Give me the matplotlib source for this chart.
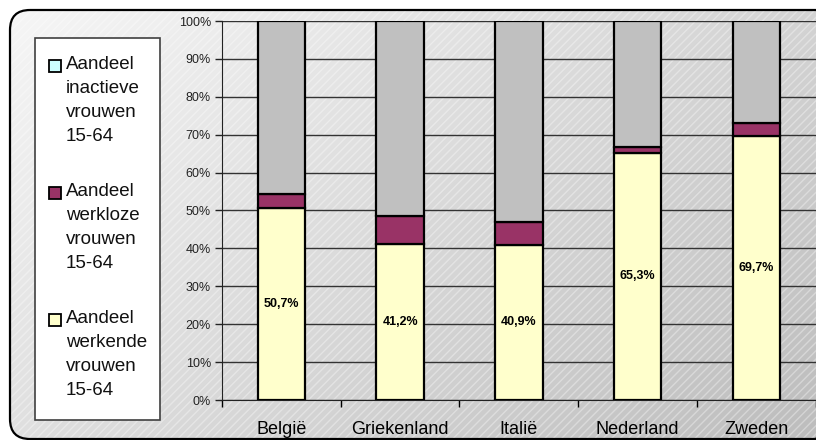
import numpy as np
import matplotlib
matplotlib.use("Agg")
import matplotlib.pyplot as plt
from matplotlib.patches import FancyBboxPatch, Rectangle
from matplotlib.ticker import FixedLocator, PercentFormatter

plt.rcParams["font.family"] = ["Liberation Sans", "DejaVu Sans"]

# data (percent of women 15-64)
countries = ["België", "Griekenland", "Italië", "Nederland", "Zweden"]
werkend = [50.7, 41.2, 40.9, 65.3, 69.7]
werkloos = [3.6, 7.3, 6.1, 1.4, 3.5]
inactief = [45.7, 51.5, 53.0, 33.3, 26.8]
labels_werkend = ["50,7%", "41,2%", "40,9%", "65,3%", "69,7%"]

legend_items = [
    ("Aandeel\ninactieve\nvrouwen\n15-64", "#CCFFFF"),
    ("Aandeel\nwerkloze\nvrouwen\n15-64", "#993366"),
    ("Aandeel\nwerkende\nvrouwen\n15-64", "#FFFFCC"),
]

W, H = 816, 440
fig = plt.figure(figsize=(W / 100, H / 100), dpi=100)


def fx(px):
    return px / W


def fy(py):
    return 1 - py / H


# achtergrond: afgeronde kader met grijs verloop
bg = fig.add_axes([0, 0, 1, 1])
bg.set_xlim(0, W)
bg.set_ylim(H, 0)
bg.axis("off")
box = dict(boxstyle="round,pad=0,rounding_size=20")
frame = FancyBboxPatch((10, 10), 825, 429, **box,
                       facecolor="none", edgecolor="black", linewidth=1.6, zorder=3)
bg.add_patch(frame)
yy, xx = np.mgrid[0:H, 0:W]
grad = (xx / W * 0.6 + yy / H * 0.4)
img = bg.imshow(grad, cmap=matplotlib.colors.LinearSegmentedColormap.from_list(
    "g", ["#f7f7f7", "#bdbdbd"]), extent=(0, W, H, 0), aspect="auto", zorder=1)
img.set_clip_path(frame)
hatch = FancyBboxPatch((10, 10), 825, 429, **box,
                       facecolor="none", edgecolor=(1, 1, 1, 0.35), linewidth=0,
                       hatch="////", zorder=2)
bg.add_patch(hatch)

# legenda
bg.add_patch(Rectangle((35, 38), 125, 382, facecolor="white", edgecolor="#404040",
                       linewidth=1.2, zorder=4))
starts = [60, 187, 314]
for (txt, col), top in zip(legend_items, starts):
    bg.add_patch(Rectangle((49, top), 12, 12, facecolor=col, edgecolor="black",
                           linewidth=1.3, zorder=5))
    bg.text(66, top - 4, txt, fontsize=13.5, va="top", ha="left",
            linespacing=1.55, color="#111111", zorder=6)

# grafiek
ax = fig.add_axes([fx(222), fy(400), fx(818) - fx(222), fy(21) - fy(400)])
ax.set_facecolor("none")
x = np.arange(len(countries))
bw = 0.4
ax.bar(x, werkend, bw, color="#FFFFCC", edgecolor="black", linewidth=1.6, zorder=3)
ax.bar(x, werkloos, bw, bottom=werkend, color="#993366", edgecolor="black",
       linewidth=1.6, zorder=3)
bottom2 = [a + b for a, b in zip(werkend, werkloos)]
ax.bar(x, inactief, bw, bottom=bottom2, color="#C0C0C0", edgecolor="black",
       linewidth=1.6, zorder=3)

for xi, v, lab in zip(x, werkend, labels_werkend):
    ax.text(xi, v / 2, lab, ha="center", va="center", fontsize=9,
            fontweight="bold", zorder=4)

ax.set_xlim(-0.5, len(countries) - 0.5 + 0.02)
ax.set_ylim(0, 100)
ax.yaxis.set_major_locator(FixedLocator(np.arange(0, 101, 10)))
ax.yaxis.set_major_formatter(PercentFormatter(decimals=0))
ax.grid(axis="y", color="#333333", linewidth=1.0, zorder=0)
ax.tick_params(axis="y", length=5, width=1, labelsize=9, pad=3, colors="#222222")

ax.set_xticks(np.arange(-0.5, len(countries), 1.0))
ax.set_xticklabels([])
ax.set_xticks(x, minor=True)
ax.set_xticklabels(countries, minor=True)
ax.tick_params(axis="x", which="major", length=5, width=1, direction="out")
ax.tick_params(axis="x", which="minor", length=0, labelsize=13, pad=15)

for s in ["top", "right"]:
    ax.spines[s].set_visible(False)
ax.spines["left"].set_color("#222222")
ax.spines["bottom"].set_color("#222222")
ax.set_axisbelow(True)

fig.savefig("out.png", dpi=100)
